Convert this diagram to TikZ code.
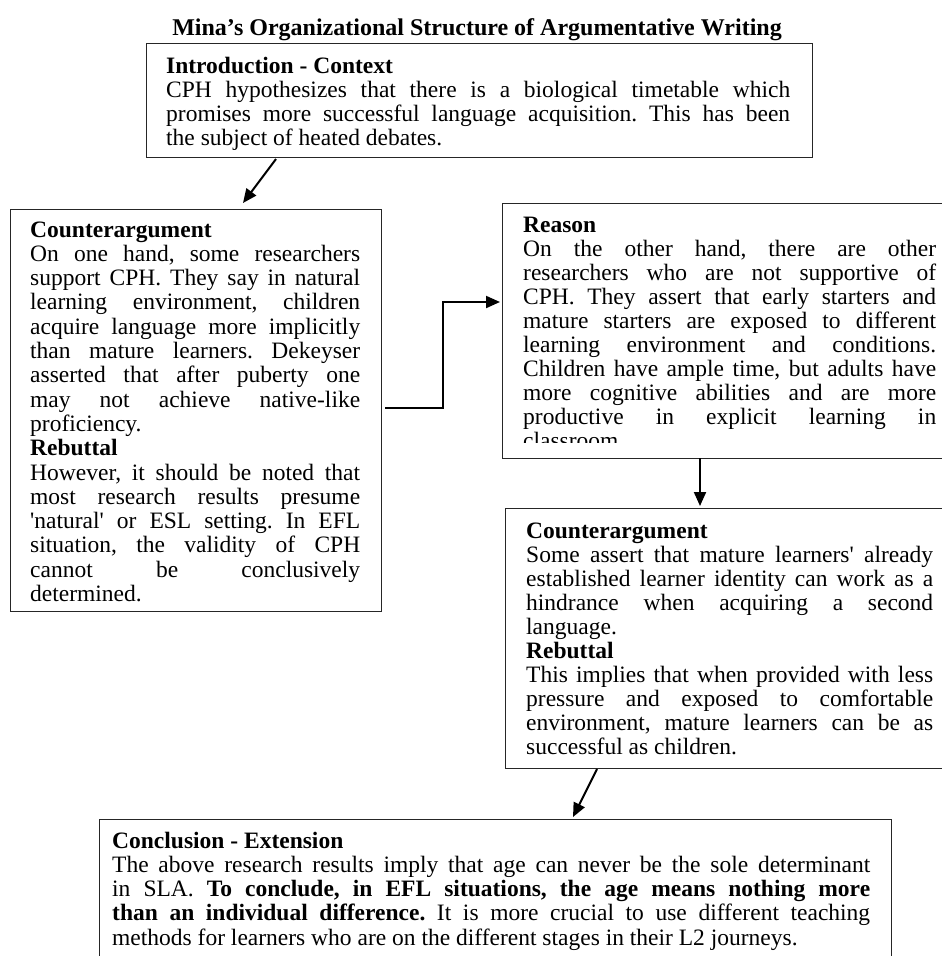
\documentclass[tikz,border=0pt]{standalone}
\usepackage{fontspec}
\setmainfont{Liberation Serif}
\newfontfamily\plainq{Liberation Serif}
\usetikzlibrary{arrows.meta}
\newcommand\jl[1]{\hbox to \linewidth{#1}}
\newcommand\nl[1]{\hbox to \linewidth{#1\hfil}}
\newcommand\sq{{\plainq'}}
\newcommand\bodyfont{\fontsize{23.5pt}{24.3pt}\selectfont}
\frenchspacing
\tikzset{
  box/.style={draw=black!85, line width=1.3pt, minimum width=#1, inner sep=0pt, anchor=north west},
  txt/.style={inner sep=0pt, anchor=base west},
  arr/.style={line width=2pt, -{Triangle[length=14pt,width=12pt]}, line join=miter},
}
\begin{document}
\begin{tikzpicture}[x=1pt,y=-1pt]
\useasboundingbox (0,0) rectangle (942,956);
\clip (0,0) rectangle (942,956);

% title
\node[inner sep=0pt, anchor=base] (title) at (477,35)
  {\fontsize{24pt}{28pt}\selectfont\bfseries Mina’s Organizational Structure of Argumentative Writing};

% boxes
\node[box=666pt, minimum height=114pt] (intro) at (146,43) {};
\node[box=371pt, minimum height=402pt] (cnt1) at (10,209) {};
\node[box=458pt, minimum height=255pt] (reason) at (502,203) {};
\node[box=455pt, minimum height=260pt] (cnt2) at (505,508) {};
\node[box=792pt, minimum height=160pt] (concl) at (99,819) {};

% texts
\node[txt] (introtext) at (166,73) {\parbox[t]{624pt}{\bodyfont\frenchspacing
\nl{\textbf{Introduction - Context}}
\jl{CPH hypothesizes that there is a biological timetable which}
\jl{promises more successful language acquisition. This has been}
\nl{the subject of heated debates.}}};

\node[txt] (cnt1text) at (30,237) {\parbox[t]{330pt}{\bodyfont\frenchspacing
\nl{\textbf{Counterargument}}
\jl{On one hand, some researchers}
\jl{support CPH. They say in natural}
\jl{learning environment, children}
\jl{acquire language more implicitly}
\jl{than mature learners. Dekeyser}
\jl{asserted that after puberty one}
\jl{may not achieve native-like}
\nl{proficiency.}
\nl{\textbf{Rebuttal}}
\jl{However, it should be noted that}
\jl{most research results presume}
\jl{\sq natural\sq{} or ESL setting. In EFL}
\jl{situation, the validity of CPH}
\jl{cannot be conclusively}
\nl{determined.}}};

\begin{scope}
\clip (502,203) rectangle (960,442);
\node[txt] (reasontext) at (523,232) {\parbox[t]{413pt}{\fontsize{23.5pt}{24pt}\selectfont\frenchspacing
\nl{\textbf{Reason}}
\jl{On the other hand, there are other}
\jl{researchers who are not supportive of}
\jl{CPH. They assert that early starters and}
\jl{mature starters are exposed to different}
\jl{learning environment and conditions.}
\jl{Children have ample time, but adults have}
\jl{more cognitive abilities and are more}
\jl{productive in explicit learning in}
\nl{classroom.}}};
\end{scope}

\node[txt] (cnt2text) at (526,538) {\parbox[t]{407pt}{\fontsize{23.5pt}{24pt}\selectfont\frenchspacing
\nl{\textbf{Counterargument}}
\jl{Some assert that mature learners\sq{} already}
\jl{established learner identity can work as a}
\jl{hindrance when acquiring a second}
\nl{language.}
\nl{\textbf{Rebuttal}}
\jl{This implies that when provided with less}
\jl{pressure and exposed to comfortable}
\jl{environment, mature learners can be as}
\nl{successful as children.}}};

\node[txt] (concltext) at (112,848) {\parbox[t]{758pt}{\bodyfont\frenchspacing
\nl{\textbf{Conclusion - Extension}}
\jl{The above research results imply that age can never be the sole determinant}
\jl{in SLA. \textbf{To conclude, in EFL situations, the age means nothing more}}
\jl{\textbf{than an individual difference.} It is more crucial to use different teaching}
\nl{methods for learners who are on the different stages in their L2 journeys.}}};

% connectors
\coordinate (a1s) at (276,159);
\coordinate (a1e) at (243,203);
\draw[arr] (a1s) -- (a1e);

\coordinate (a2s) at (385,408);
\coordinate (a2m) at (443,408);
\coordinate (a2n) at (443,302);
\coordinate (a2e) at (500,302);
\draw[arr] (a2s) -- (a2m) -- (a2n) -- (a2e);

\coordinate (a3s) at (700,458);
\coordinate (a3e) at (700,506);
\draw[arr] (a3s) -- (a3e);

\coordinate (a4s) at (597,769);
\coordinate (a4e) at (573,817);
\draw[arr] (a4s) -- (a4e);
\end{tikzpicture}
\end{document}
